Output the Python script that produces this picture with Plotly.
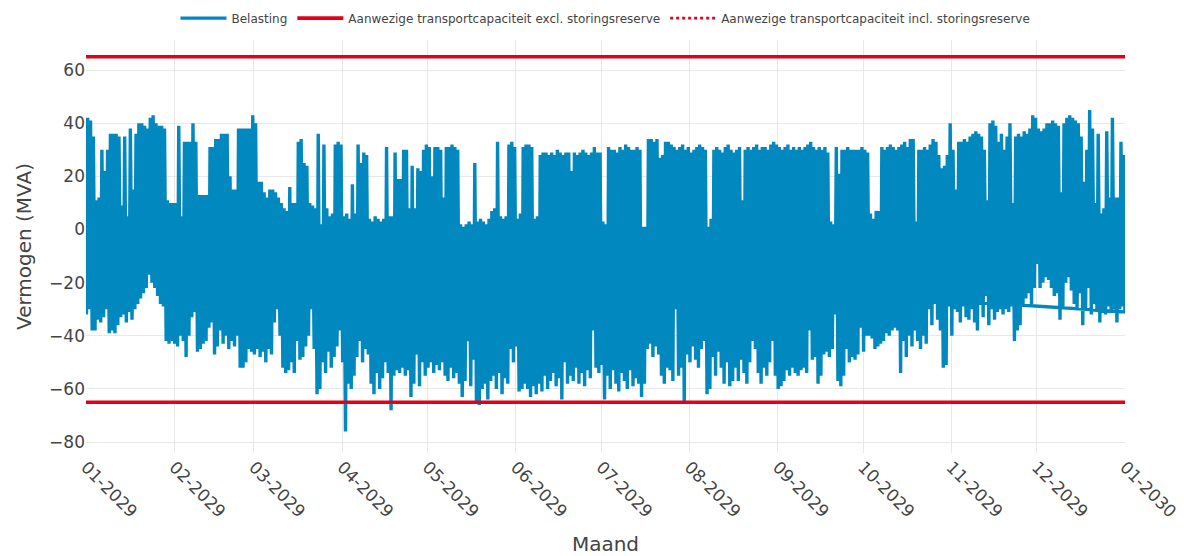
import pandas as pd
import plotly.graph_objects as go

# ---- data (daily maximum / minimum load, MVA) ----
year_start = "2029-01-01"
year_end = "2030-01-01"

daily_max = [
    # Jan
    42, 41, 35, 11, 12, 30, 22, 30, 36, 36, 36, 35, 9, 35, 5, 38, 15, 36, 40, 40, 39, 38, 42, 43, 40, 39, 39, 38, 11, 10, 10,
    # Feb
    10, 39, 5, 33, 33, 33, 40, 33, 13, 13, 13, 13, 31, 31, 34, 34, 36, 36, 36, 20, 15, 15, 38, 38, 38, 38, 38, 43,
    # Mar
    40, 18, 18, 14, 12, 15, 15, 14, 12, 10, 8, 7, 16, 10, 10, 33, 34, 25, 24, 10, 9, 8, 36, 2, 32, 8, 5, 6, 32, 33, 32,
    # Apr
    5, 6, 4, 17, 6, 32, 25, 29, 28, 4, 3, 5, 4, 3, 4, 31, 5, 5, 29, 19, 19, 30, 30, 8, 24, 8, 23, 22, 30, 32,
    # May
    31, 20, 31, 31, 30, 12, 31, 31, 32, 31, 30, 2, 1, 2, 3, 2, 25, 3, 4, 3, 2, 4, 7, 8, 33, 5, 4, 5, 32, 33, 31,
    # Jun
    4, 6, 31, 32, 32, 31, 4, 5, 28, 29, 29, 28, 29, 28, 30, 29, 28, 29, 29, 22, 29, 28, 29, 30, 29, 28, 29, 31, 29, 29,
    # Jul
    3, 2, 31, 30, 30, 29, 31, 30, 32, 31, 30, 30, 31, 30, 1, 1, 34, 34, 33, 34, 27, 28, 33, 33, 32, 31, 30, 31, 32, 30, 31,
    # Aug
    29, 30, 31, 32, 31, 30, 1, 4, 30, 31, 30, 29, 31, 32, 30, 29, 30, 31, 11, 30, 31, 30, 31, 32, 30, 31, 31, 30, 32, 33, 32,
    # Sep
    31, 30, 31, 32, 30, 31, 30, 31, 30, 31, 32, 33, 31, 30, 31, 30, 31, 29, 3, 2, 31, 21, 30, 30, 31, 30, 30, 30, 30, 31,
    # Oct
    30, 29, 6, 4, 7, 7, 31, 30, 31, 32, 31, 30, 31, 32, 33, 31, 34, 34, 3, 30, 30, 31, 30, 32, 34, 33, 28, 23, 24, 28, 40,
    # Nov
    30, 15, 33, 33, 34, 33, 35, 36, 37, 36, 35, 30, 11, 40, 41, 39, 33, 36, 30, 35, 40, 10, 35, 36, 35, 37, 36, 38, 43, 42,
    # Dec
    38, 37, 38, 40, 40, 41, 40, 39, 14, 40, 42, 43, 42, 41, 40, 35, 18, 30, 45, 38, 10, 36, 6, 8, 37, 12, 42, 12, 12, 33, 28,
]

daily_min = [
    # Jan
    -32, -30, -38, -38, -34, -35, -33, -30, -39, -38, -39, -36, -33, -32, -35, -31, -34, -30, -28, -26, -24, -22, -17, -20, -22, -25, -28, -29, -42, -43, -42,
    # Feb
    -43, -44, -40, -42, -48, -40, -33, -31, -46, -45, -43, -42, -37, -35, -47, -44, -38, -43, -40, -45, -42, -44, -40, -52, -52, -50, -45, -46,
    # Mar
    -47, -45, -48, -46, -50, -45, -47, -35, -30, -40, -52, -54, -53, -50, -54, -42, -49, -48, -44, -40, -30, -45, -62, -60, -50, -54, -46, -52, -48, -44, -38,
    # Apr
    -50, -76, -58, -60, -55, -48, -42, -50, -45, -47, -58, -62, -54, -60, -56, -50, -54, -68, -55, -53, -54, -52, -55, -53, -63, -58, -47, -59, -50, -55,
    # May
    -52, -50, -54, -51, -53, -50, -55, -57, -52, -56, -54, -58, -63, -57, -42, -59, -49, -65, -66, -60, -58, -64, -57, -55, -60, -54, -62, -56, -58, -45, -50,
    # Jun
    -44, -61, -60, -58, -60, -63, -59, -62, -58, -61, -55, -60, -57, -54, -59, -56, -64, -50, -58, -55, -57, -52, -58, -54, -59, -53, -56, -38, -52, -54,
    # Jul
    -51, -64, -55, -60, -53, -58, -61, -54, -57, -60, -53, -59, -56, -58, -63, -58, -45, -43, -48, -44, -47, -55, -58, -52, -53, -57, -30, -55, -52, -65, -47,
    # Aug
    -50, -44, -49, -52, -45, -42, -62, -60, -48, -55, -46, -52, -58, -50, -59, -57, -52, -57, -49, -54, -58, -50, -42, -45, -54, -58, -52, -55, -50, -42, -55,
    # Sep
    -60, -59, -57, -53, -55, -52, -54, -55, -53, -52, -54, -38, -49, -48, -58, -55, -47, -46, -48, -45, -32, -57, -59, -55, -45, -50, -48, -49, -47, -37,
    # Oct
    -46, -40, -40, -41, -45, -44, -43, -42, -39, -40, -38, -37, -38, -54, -42, -48, -40, -44, -38, -42, -45, -40, -43, -30, -36, -28, -34, -38, -52, -51, -29,
    # Nov
    -40, -30, -31, -35, -29, -33, -34, -30, -35, -38, -28, -33, -25, -36, -30, -34, -31, -30, -32, -30, -31, -29, -42, -38, -36, -28, -26, -24, -28, -22,
    # Dec
    -13, -22, -20, -18, -19, -22, -25, -24, -34, -30, -20, -18, -23, -28, -30, -24, -36, -30, -22, -32, -28, -31, -35, -30, -32, -29, -31, -30, -35, -30, -29,
]

# trailing samples of the export (last hour, then a stray sample that links back)
tail_times = ["2029-12-31 23:00", "2029-11-05 00:00"]
tail_values = [-31, -27]

capacity_excl = 65
capacity_incl = 65

# ---- build the load trace ----
days = pd.date_range(year_start, periods=len(daily_max), freq="D")
xs, ys = [], []
for day, lo, hi in zip(days, daily_min, daily_max):
    xs.append(day + pd.Timedelta(hours=4))
    ys.append(lo)
    xs.append(day + pd.Timedelta(hours=14))
    ys.append(hi)
xs += [pd.Timestamp(t) for t in tail_times]
ys += tail_values

BLUE = "#0088bf"
RED = "#e2001a"

fig = go.Figure()
# dotted line drawn first (slightly thinner) so the solid one fully covers it
fig.add_trace(go.Scatter(
    x=[year_start, year_end, None, year_start, year_end],
    y=[capacity_incl, capacity_incl, None, -capacity_incl, -capacity_incl],
    mode="lines", name="Aanwezige transportcapaciteit incl. storingsreserve",
    line=dict(color=RED, width=2.6, dash="dot"), legendrank=3,
))
fig.add_trace(go.Scatter(
    x=xs, y=ys, mode="lines", name="Belasting",
    line=dict(color=BLUE, width=3.4), legendrank=1,
))
fig.add_trace(go.Scatter(
    x=[year_start, year_end, None, year_start, year_end],
    y=[capacity_excl, capacity_excl, None, -capacity_excl, -capacity_excl],
    mode="lines", name="Aanwezige transportcapaciteit excl. storingsreserve",
    line=dict(color=RED, width=3.6), legendrank=2,
))

# the page body adds an 8 px offset, so the figure is 8 px smaller on each side
fig.update_layout(
    width=1176, height=548,
    margin=dict(l=78, r=59, t=32, b=103, autoexpand=False),
    paper_bgcolor="white", plot_bgcolor="white",
    font=dict(family="DejaVu Sans", color="#444", size=17),
    showlegend=True,
    legend=dict(
        orientation="h", x=0.5, xanchor="center", y=1.053, yanchor="middle",
        font=dict(size=12, color="#444"), itemwidth=46,
    ),
)
fig.update_xaxes(
    range=[year_start, year_end], dtick="M1", tickformat="%m-%Y",
    tickangle=45, tickfont=dict(size=17), automargin=False,
    showgrid=True, gridcolor="#e8e8e8", gridwidth=1,
    zeroline=False, showline=False,
    title=dict(text="Maand", font=dict(size=20), standoff=17),
)
fig.update_yaxes(
    range=[-84.1, 71.3], dtick=20, automargin=False,
    tickfont=dict(size=17),
    showgrid=True, gridcolor="#e8e8e8", gridwidth=1,
    zeroline=False, showline=False,
    title=dict(text="Vermogen (MVA)", font=dict(size=20), standoff=12),
)

fig.write_html("out.html")
